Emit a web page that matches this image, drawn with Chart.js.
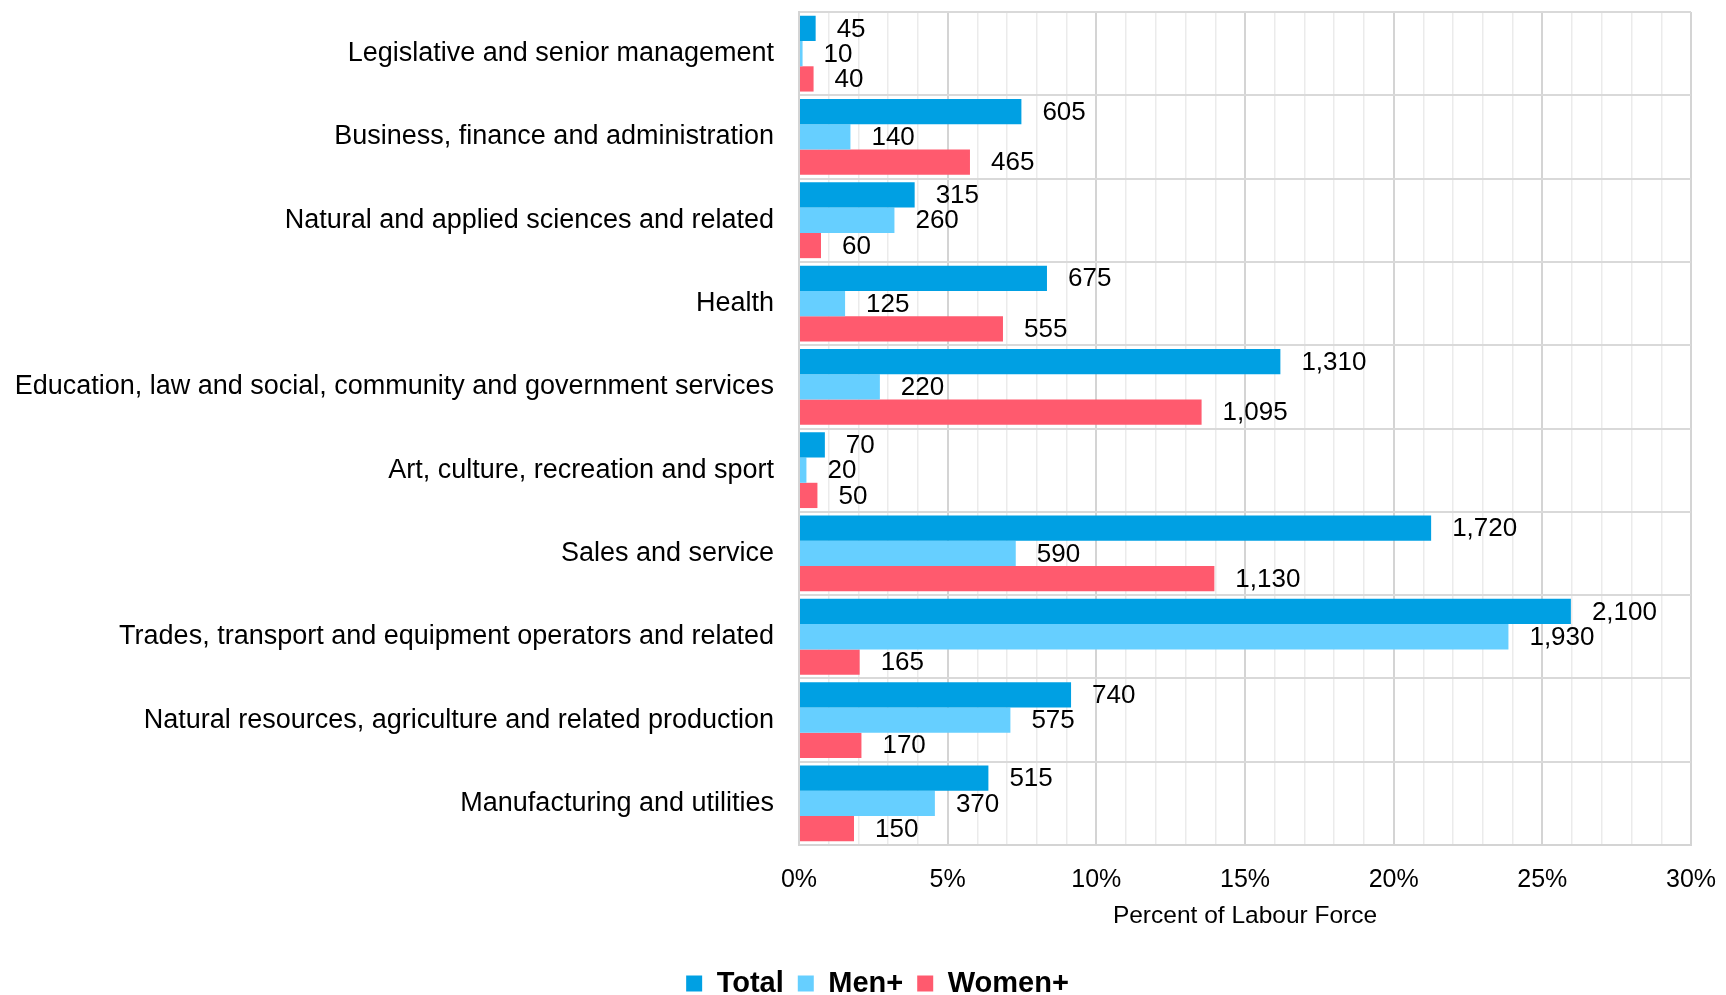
<!DOCTYPE html>
<html>
<head>
<meta charset="utf-8">
<title>Labour force by occupation</title>
<script src="https://cdn.jsdelivr.net/npm/chart.js@4.4.1/dist/chart.umd.min.js"></script>
<style>
    html, body { margin: 0; padding: 0; background: #fff; }
    #wrap { width: 1726px; height: 995px; }
</style>
</head>
<body>
<div id="wrap"><canvas id="chart1"></canvas></div>
<script>
// categorias (de cima para baixo)
const categories = [
    'Legislative and senior management',
    'Business, finance and administration',
    'Natural and applied sciences and related',
    'Health',
    'Education, law and social, community and government services',
    'Art, culture, recreation and sport',
    'Sales and service',
    'Trades, transport and equipment operators and related',
    'Natural resources, agriculture and related production',
    'Manufacturing and utilities'
];

// percent of labour force (bar length)
const totalPct = [0.56, 7.48, 3.89, 8.34, 16.19, 0.87, 21.26, 25.96, 9.15, 6.37];
const menPct   = [0.12, 1.73, 3.21, 1.55, 2.72, 0.25, 7.29, 23.86, 7.11, 4.57];
const womenPct = [0.49, 5.75, 0.74, 6.86, 13.54, 0.62, 13.97, 2.04, 2.10, 1.85];

// counts shown as labels
const totalCount = [45, 605, 315, 675, 1310, 70, 1720, 2100, 740, 515];
const menCount   = [10, 140, 260, 125, 220, 20, 590, 1930, 575, 370];
const womenCount = [40, 465, 60, 555, 1095, 50, 1130, 165, 170, 150];

// x axis labels (every 5%)
const xTickLabels = ['0%', '5%', '10%', '15%', '20%', '25%', '30%'];

const FONT = '"Liberation Sans", Arial, sans-serif';

// labels com os valores ao lado das barras
const valueLabels = {
    id: 'valueLabels',
    afterDatasetsDraw(chart) {
        const ctx = chart.ctx;
        ctx.save();
        ctx.font = '26px ' + FONT;
        ctx.fillStyle = '#000';
        ctx.textBaseline = 'middle';
        ctx.textAlign = 'left';
        chart.data.datasets.forEach((ds, i) => {
            const meta = chart.getDatasetMeta(i);
            meta.data.forEach((bar, j) => {
                ctx.fillText(ds.counts[j].toLocaleString('en-US'), bar.x + 21, bar.y + 1);
            });
        });
        ctx.restore();
    }
};

// legenda um pouco deslocada para a direita, como no original
const legendShift = {
    id: 'legendShift',
    afterLayout(chart) {
        if (chart.legend) {
            chart.legend.left += 32;
            chart.legend.right += 32;
        }
    }
};

const data1 = {
    labels: categories,
    datasets: [
        { label: 'Total',  data: totalPct, counts: totalCount, backgroundColor: '#00A0E3' },
        { label: 'Men+',   data: menPct,   counts: menCount,   backgroundColor: '#66CFFF' },
        { label: 'Women+', data: womenPct, counts: womenCount, backgroundColor: '#FF5A6E' }
    ]
};

const config1 = {
    type: 'bar',
    data: data1,
    plugins: [valueLabels, legendShift],
    options: {
        indexAxis: 'y',
        responsive: true,
        maintainAspectRatio: false,
        animation: false,
        categoryPercentage: 0.91,
        barPercentage: 1.0,
        layout: { padding: { top: 12, right: 35, left: 0, bottom: 0 } },
        scales: {
            x: {
                min: 0,
                max: 30,
                ticks: {
                    stepSize: 1,
                    autoSkip: false,
                    maxRotation: 0,
                    padding: 20,
                    color: '#000',
                    font: { family: FONT, size: 25 },
                    callback: v => (v % 5 === 0 ? xTickLabels[v / 5] : '')
                },
                grid: {
                    drawTicks: false,
                    color: c => (c.tick && c.tick.value % 5 === 0 ? '#d4d4d4' : '#ebebeb'),
                    lineWidth: c => (c.tick && c.tick.value % 5 === 0 ? 2 : 1.5)
                },
                border: { color: '#d4d4d4', width: 2 },
                title: {
                    display: true,
                    text: 'Percent of Labour Force',
                    color: '#000',
                    font: { family: FONT, size: 24.5 },
                    padding: { top: 4, bottom: 24 }
                },
                afterFit: s => {
                    s.height = 110;
                    s.paddingLeft = 0;
                    s.paddingRight = 0;
                }
            },
            y: {
                ticks: {
                    padding: 25,
                    color: '#000',
                    font: { family: FONT, size: 27 }
                },
                grid: { drawTicks: false, color: '#d9d9d9', lineWidth: 2 },
                border: { color: '#d4d4d4', width: 2 },
                afterFit: s => {
                    s.width = 799;
                    s.paddingTop = 0;
                    s.paddingBottom = 0;
                }
            }
        },
        plugins: {
            legend: {
                position: 'bottom',
                maxHeight: 40,
                labels: {
                    boxWidth: 16,
                    boxHeight: 16,
                    padding: 14,
                    color: '#000',
                    font: { family: FONT, size: 29, weight: 'bold' }
                }
            },
            tooltip: { enabled: false }
        }
    }
};

const chart1 = new Chart(document.getElementById('chart1'), config1);
</script>
</body>
</html>
